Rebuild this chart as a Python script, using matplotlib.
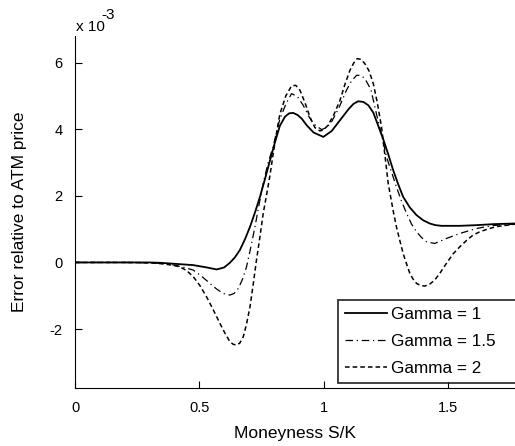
import matplotlib
matplotlib.use("Agg")
from matplotlib import pyplot as plt
import numpy as np

plt.rcParams['font.family'] = ['Liberation Sans', 'DejaVu Sans']

# moneyness S/K and error (units of 1e-3)
x_g1 = [0, 0.1, 0.2, 0.3, 0.342, 0.4, 0.476, 0.53, 0.57, 0.6, 0.623, 0.643, 0.663, 0.684,
        0.704, 0.724, 0.744, 0.764, 0.784, 0.804, 0.824, 0.845, 0.862, 0.878, 0.895, 0.912,
        0.932, 0.96, 0.999, 1.033, 1.066, 1.1, 1.12, 1.139, 1.16, 1.18, 1.2, 1.22, 1.24,
        1.26, 1.28, 1.30, 1.32, 1.347, 1.374, 1.40, 1.427, 1.45, 1.474, 1.548, 1.615,
        1.682, 1.77]
y_g1 = [0, 0, 0, 0, -0.01, -0.04, -0.08, -0.15, -0.21, -0.15, -0.01, 0.15, 0.37, 0.7,
        1.07, 1.5, 1.97, 2.5, 3.05, 3.6, 4.1, 4.38, 4.48, 4.49, 4.43, 4.32,
        4.12, 3.9, 3.77, 3.95, 4.27, 4.6, 4.76, 4.84, 4.82, 4.72, 4.5, 4.1, 3.7,
        3.25, 2.77, 2.35, 1.97, 1.65, 1.42, 1.27, 1.17, 1.12, 1.1, 1.1, 1.12,
        1.15, 1.17]

x_g15 = [0, 0.1, 0.2, 0.3, 0.35, 0.4, 0.44, 0.476, 0.51, 0.543, 0.57, 0.596, 0.623, 0.64,
         0.657, 0.674, 0.69, 0.707, 0.724, 0.74, 0.757, 0.777, 0.797, 0.81, 0.824, 0.848,
         0.871, 0.895, 0.918, 0.938, 0.958, 0.992, 1.012, 1.032, 1.062, 1.092, 1.112,
         1.133, 1.15, 1.166, 1.19, 1.213, 1.233, 1.253, 1.273, 1.293, 1.313, 1.334,
         1.354, 1.374, 1.394, 1.414, 1.447, 1.494, 1.548, 1.615, 1.682, 1.77]
y_g15 = [0, 0, 0, -0.01, -0.03, -0.08, -0.15, -0.23, -0.42, -0.63, -0.8, -0.93, -0.98, -0.93,
         -0.78, -0.5, -0.13, 0.45, 1.07, 1.72, 2.37, 3.0, 3.47, 3.9, 4.3, 4.75,
         5.07, 4.98, 4.72, 4.42, 4.17, 3.99, 4.05, 4.22, 4.65, 5.17, 5.45,
         5.62, 5.62, 5.52, 5.2, 4.45, 3.85, 3.17, 2.72, 2.27, 1.85, 1.47,
         1.15, 0.92, 0.75, 0.62, 0.57, 0.72, 0.87, 1.02, 1.11, 1.15]

x_g2 = [0, 0.1, 0.2, 0.3, 0.35, 0.39, 0.422, 0.45, 0.476, 0.503, 0.529, 0.556, 0.583, 0.603,
        0.623, 0.637, 0.65, 0.663, 0.677, 0.69, 0.704, 0.717, 0.73, 0.744, 0.757, 0.77,
        0.784, 0.797, 0.811, 0.824, 0.848, 0.871, 0.888, 0.905, 0.925, 0.945, 0.965,
        0.985, 1.0, 1.018, 1.042, 1.066, 1.086, 1.106, 1.122, 1.135, 1.15, 1.166, 1.183,
        1.2, 1.216, 1.233, 1.247, 1.26, 1.28, 1.293, 1.307, 1.32, 1.334, 1.347, 1.36,
        1.374, 1.39, 1.407, 1.427, 1.447, 1.47, 1.494, 1.52, 1.548, 1.575, 1.601, 1.628,
        1.655, 1.682, 1.709, 1.74, 1.77]
y_g2 = [0, 0, 0, -0.01, -0.04, -0.08, -0.13, -0.25, -0.43, -0.7, -1.03, -1.42, -1.83, -2.12,
        -2.38, -2.46, -2.48, -2.42, -2.23, -1.85, -1.33, -0.65, 0.07, 0.77, 1.47, 2.0,
        2.6, 3.25, 3.9, 4.45, 5.0, 5.3, 5.32, 5.17, 4.8, 4.37, 4.05,
        3.95, 3.98, 4.12, 4.45, 4.87, 5.35, 5.77, 6.0, 6.12, 6.1, 5.97, 5.75,
        5.37, 4.8, 4.07, 3.2, 2.37, 1.55, 1.07, 0.65, 0.27, -0.05, -0.33, -0.5,
        -0.63, -0.69, -0.71, -0.65, -0.53, -0.3, -0.03, 0.25, 0.47, 0.66, 0.82, 0.92,
        0.99, 1.05, 1.09, 1.12, 1.15]

labels = ['Gamma = 1', 'Gamma = 1.5', 'Gamma = 2']
y_ticks = [-2, 0, 2, 4, 6]
x_ticks = [0, 0.5, 1, 1.5]

fig = plt.figure(figsize=(5.15, 4.46), dpi=100)
ax = fig.add_axes([75 / 515, 58 / 446, 440 / 515, 352 / 446])

ax.plot(x_g1, np.array(y_g1) * 1e-3, 'k-', lw=1.3, label=labels[0])
ax.plot(x_g15, np.array(y_g15) * 1e-3, 'k', ls=(0, (6, 3, 1, 3)), lw=0.9, label=labels[1])
ax.plot(x_g2, np.array(y_g2) * 1e-3, 'k', ls=(0, (3, 2)), lw=1.1, label=labels[2])

ax.set_xlim(0, 1.77)
ax.set_ylim(-3.77e-3, 6.8e-3)
ax.set_xticks(x_ticks)
ax.set_xticklabels(['0', '0.5', '1', '1.5'])
ax.set_yticks(np.array(y_ticks) * 1e-3)
ax.set_yticklabels([str(t) for t in y_ticks])
ax.tick_params(direction='in', length=5, labelsize=10.5, pad=9)
ax.spines['top'].set_visible(False)
ax.spines['right'].set_visible(False)

ax.set_xlabel('Moneyness S/K', fontsize=12.5, labelpad=8)
ax.set_ylabel('Error relative to ATM price', fontsize=12.5, labelpad=16)
fig.text(76 / 515, 1 - 31 / 446, 'x 10', fontsize=11, va='baseline', ha='left')
fig.text(101 / 515, 1 - 19 / 446, '-3', fontsize=11, va='baseline', ha='left')

leg = ax.legend(loc='upper left', bbox_to_anchor=(0.597, 0.0, 0.5, 0.25), mode='expand',
                fontsize=12.3, frameon=True, fancybox=False, handlelength=2.5,
                handletextpad=0.2, borderpad=0.4, labelspacing=0.72, borderaxespad=0)
leg.get_frame().set_edgecolor('black')
leg.get_frame().set_linewidth(1.3)

fig.savefig('out.png', dpi=100)
